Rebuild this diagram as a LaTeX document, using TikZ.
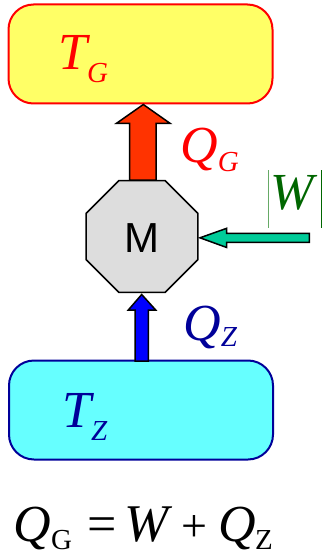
\documentclass[tikz,border=0pt]{standalone}
\usepackage{fontspec}
\setmainfont{Liberation Serif}
\newfontfamily\sansM{Liberation Sans}
\usetikzlibrary{shapes.geometric}
\definecolor{hotfill}{HTML}{FFFF66}
\definecolor{hotline}{HTML}{FF0000}
\definecolor{coldfill}{HTML}{66FFFF}
\definecolor{coldline}{HTML}{000099}
\definecolor{redarrow}{HTML}{FF3300}
\definecolor{greenarrow}{HTML}{00CC99}
\definecolor{bluearrow}{HTML}{0000FF}
\definecolor{wgreen}{HTML}{006600}
\definecolor{wbar}{HTML}{66AA66}
\definecolor{motorgray}{HTML}{DDDDDD}
\newcommand\fsz[1]{\fontsize{#1}{#1}\selectfont}
\newcommand\symsub[5]{{\fsz{#3}\itshape #1}\raisebox{-#5}{\fsz{#4}\itshape #2}}
\newcommand\putat[2]{\makebox[0pt][l]{\hspace{#1}#2}}
\tikzset{
  reservoir/.style={rounded corners=25pt, line width=2pt, minimum width=264pt, minimum height=99pt, inner sep=0pt},
  blockarrow/.style={draw=black, line width=1.5pt, line join=miter},
  lbl/.style={inner sep=0pt, anchor=base west}
}
\begin{document}
\begin{tikzpicture}[x=1pt,y=-1pt]
\useasboundingbox (0,0) rectangle (324,556);
% reservoirs
\node[reservoir, draw=hotline, fill=hotfill] (hot) at (140.5,54) {};
\node[reservoir, draw=coldline, fill=coldfill] (cold) at (141,410) {};
% engine
\node[regular polygon, regular polygon sides=8, minimum size=121pt, inner sep=0pt,
      draw=black, line width=1.5pt, fill=motorgray] (M) at (142,236.5) {};
\node[inner sep=0pt] (Mtxt) at (142,238) {\sansM\fsz{42}M};
% arrows
\draw[blockarrow, fill=redarrow] (129.5,180) -- (129.5,123.3) -- (116.5,123.3) -- (143.3,104.5)
   -- (170,123.3) -- (156,123.3) -- (156,180) -- cycle;
\draw[blockarrow, fill=greenarrow] (309.3,233.3) -- (226.7,233.3) -- (226.7,228.3) -- (200,237.8)
   -- (226.7,247.5) -- (226.7,242.3) -- (309.3,242.3) -- cycle;
\draw[blockarrow, fill=bluearrow] (135,361) -- (135,310) -- (128.3,310) -- (141.7,294.5)
   -- (155.7,310) -- (148.3,310) -- (148.3,361) -- cycle;
% labels
\node[lbl, text=hotline] (TG) at (58,70) {\symsub{T}{G}{52}{29}{13pt}};
\node[lbl, text=hotline] (QG) at (180,163) {\symsub{Q}{G}{52}{29}{9pt}};
\node[lbl, text=wgreen] (W) at (270,209) {\fsz{52}\itshape W};
\draw[wbar, line width=1pt] (268.3,170) -- (268.3,228);
\draw[wgreen, line width=1pt] (321.7,170) -- (321.7,228);
\node[lbl, text=coldline] (QZ) at (183,340) {\symsub{Q}{Z}{52}{29}{6pt}};
\node[lbl, text=coldline] (TZ) at (62,427) {\symsub{T}{Z}{52}{29}{13pt}};
\node[lbl] (eq) at (13,541) {\makebox[259pt][l]{%
  \putat{0pt}{\fsz{52}\itshape Q}%
  \putat{38pt}{\raisebox{-8pt}{\fsz{29}G}}%
  \putat{74pt}{\fsz{52}=}%
  \putat{111pt}{\fsz{53}\itshape W}%
  \putat{168pt}{\fsz{46}+}%
  \putat{205pt}{\fsz{52}\itshape Q}%
  \putat{242pt}{\raisebox{-8pt}{\fsz{29}Z}}}};
\end{tikzpicture}
\end{document}
